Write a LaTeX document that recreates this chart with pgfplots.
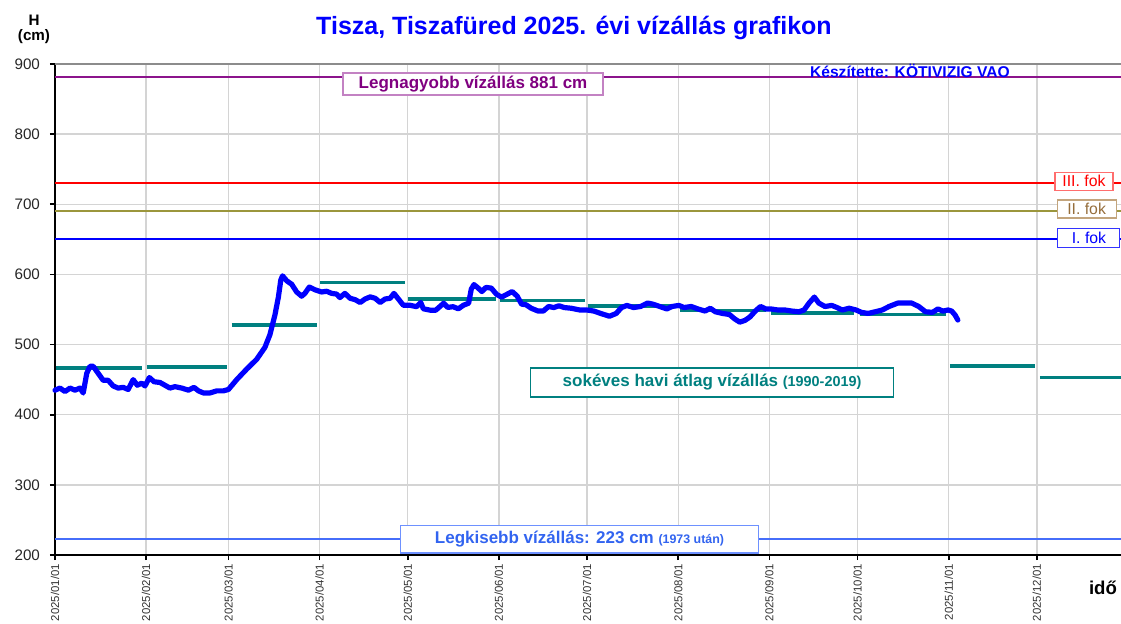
\documentclass[border=0pt]{standalone}
\usepackage{fontspec}
\setmainfont{Liberation Sans}
\usepackage{pgfplots}
\pgfplotsset{compat=1.18}

\definecolor{maxline}{RGB}{140,20,140}
\definecolor{maxtext}{RGB}{128,0,128}
\definecolor{maxbox}{RGB}{195,130,195}
\definecolor{olivel}{RGB}{155,150,60}
\definecolor{olivetext}{RGB}{150,110,60}
\definecolor{olivebox}{RGB}{195,165,125}
\definecolor{minline}{RGB}{70,110,250}
\definecolor{mintext}{RGB}{50,100,240}
\definecolor{minbox}{RGB}{110,145,255}
\definecolor{tealline}{RGB}{0,128,128}
\definecolor{redbox}{RGB}{255,110,110}

\begin{document}
\begin{tikzpicture}
\useasboundingbox (-27.5pt,-34pt) rectangle (533pt,277.5pt);
\begin{axis}[
    scale only axis,
    width=533pt,
    height=245.5pt,
    xmin=0, xmax=362.6,
    ymin=200, ymax=900,
    axis lines=left,
    axis line style={-},
    x axis line style={black, line width=0.8pt},
    y axis line style={black, line width=1.1pt},
    xtick={0,31,59,90,120,151,181,212,243,273,304,334},
    xticklabels={2025/01/01,2025/02/01,2025/03/01,2025/04/01,2025/05/01,2025/06/01,
                 2025/07/01,2025/08/01,2025/09/01,2025/10/01,2025/11/01,2025/12/01},
    ytick={200,300,...,900},
    grid=major,
    major grid style={line width=0.7pt, draw=black!17},
    tick align=outside,
    major tick length=2.5pt,
    tick style={black, line width=0.8pt},
    xticklabel style={rotate=90, anchor=east, xshift=1.5pt, font=\fontsize{5.7}{6}\selectfont, text=black!80},
    yticklabel style={xshift=-1.5pt, font=\fontsize{7.6}{8}\selectfont, text=black!85},
    /pgf/number format/assume math mode=true,
    clip=false,
]
% top border line
\addplot[black!45, line width=0.8pt] coordinates {(0,900) (362.6,900)};

% reference levels
\addplot[maxline, line width=1pt] coordinates {(0,881) (362.6,881)};
\addplot[red, line width=1pt] coordinates {(0,730) (362.6,730)};
\addplot[olivel, line width=1pt] coordinates {(0,690) (362.6,690)};
\addplot[blue, line width=1pt] coordinates {(0,650) (362.6,650)};
\addplot[minline, line width=1pt] coordinates {(0,223) (362.6,223)};

\node[draw=maxbox, fill=white, line width=0.6pt, text=maxtext, inner sep=0pt,
      minimum width=130pt, minimum height=11pt,
      font=\bfseries\fontsize{8.5}{9}\selectfont] at (axis cs:142.2,871.5) {Legnagyobb vízállás 881 cm};
\node[text=blue, font=\bfseries\fontsize{7.8}{8}\selectfont, inner sep=0pt] at (axis cs:290.8,890.5) {Készítette: KÖTIVIZIG VAO};

\node[draw=redbox, fill=white, line width=0.6pt, text=red, inner sep=0pt,
      minimum width=29pt, minimum height=9pt,
      font=\fontsize{7.9}{8}\selectfont] at (axis cs:350,733) {III. fok};
\node[draw=olivebox, fill=white, line width=0.6pt, text=olivetext, inner sep=0pt,
      minimum width=29.5pt, minimum height=9pt,
      font=\fontsize{7.9}{8}\selectfont] at (axis cs:350.9,693.3) {II. fok};
\node[draw=blue!80, fill=white, line width=0.5pt, text=blue, inner sep=0pt,
      minimum width=31pt, minimum height=9.5pt,
      font=\fontsize{7.9}{8}\selectfont] at (axis cs:351.7,652.6) {I. fok};

\node[draw=minbox, fill=white, line width=0.7pt, text=mintext, inner sep=0pt,
      minimum width=178.8pt, minimum height=13.8pt,
      font=\bfseries\fontsize{8.5}{9}\selectfont] at (axis cs:178.4,222.8)
      {Legkisebb vízállás: 223 cm {\fontsize{6.2}{7}\selectfont(1973 után)}};

\node[draw=tealline, fill=white, line width=0.7pt, text=tealline, inner sep=0pt,
      minimum width=181.3pt, minimum height=14.5pt,
      font=\bfseries\fontsize{8.5}{9}\selectfont] at (axis cs:223.5,445.9)
      {sokéves havi átlag vízállás {\fontsize{7.2}{8}\selectfont(1990-2019)}};

% long-term monthly averages (1990-2019)
\addplot[tealline, line width=1.6pt] coordinates {(0.2,466.5) (29.5,466.5)};
\addplot[tealline, line width=1.6pt] coordinates {(31.2,468) (58.6,468)};
\addplot[tealline, line width=1.6pt] coordinates {(60.1,528) (89,528)};
\addplot[tealline, line width=1.6pt] coordinates {(90.2,588) (119,588)};
\addplot[tealline, line width=1.6pt] coordinates {(120.2,565) (150,565)};
\addplot[tealline, line width=1.6pt] coordinates {(151.3,562.5) (180.3,562.5)};
\addplot[tealline, line width=1.6pt] coordinates {(181.2,555) (211.6,555)};
\addplot[tealline, line width=1.6pt] coordinates {(212.6,549) (241.8,549)};
\addplot[tealline, line width=1.6pt] coordinates {(243.5,545) (271.9,545)};
\addplot[tealline, line width=1.6pt] coordinates {(273.7,542.5) (303.2,542.5)};
\addplot[tealline, line width=1.6pt] coordinates {(304.4,469.5) (333.3,469.5)};
\addplot[tealline, line width=1.6pt] coordinates {(335,452.5) (362.6,452.5)};

% daily water level 2025
\addplot[blue, line width=2.6pt, line join=round, line cap=round] coordinates {
(0,435) (1.7,438) (3.4,433) (5.1,438) (6.8,435) (8.5,438) (9.6,431) (10.8,459)
(11.9,469) (13,469) (14.7,459) (16.4,449) (18.1,449) (19.8,441) (21.5,438)
(23.2,439) (24.9,436) (26.6,450) (28,442) (29.5,445) (30.6,441) (32.1,453)
(33.7,447) (35.7,446) (37.4,442) (39.1,438) (40.8,440) (43.1,438) (45.4,435)
(47.3,439) (48.8,434) (50.5,431) (52.7,431) (55,434) (57.3,434) (59,436)
(61.8,450) (65.2,465) (68.6,479) (71.4,496) (73.1,514) (74.8,542) (76,568)
(76.8,592) (77.4,598) (78.8,591) (80.5,586) (82.2,575) (83.9,569) (85,573)
(86.5,582) (88.5,578) (90.7,575) (92.4,576) (94.1,573) (95.8,572) (96.9,567)
(98.6,573) (100.4,566) (102.1,564) (103.8,560) (105.5,565) (107.2,568)
(108.9,566) (110.6,560) (112.3,565) (114,566) (115.3,573) (116.8,565)
(118.5,556) (120.8,556) (123,554) (124.4,560) (125.3,551) (127.7,549)
(129.5,549) (130.6,553) (132.2,559) (133.6,553) (135.4,554) (137.2,551)
(138.9,556) (140.7,559) (141.6,579) (142.5,585.5) (143.7,581.5) (145.2,575.6)
(146.6,581.5) (148.4,580.5) (150.2,571.6) (151.9,567.7) (153.7,571.6)
(155.5,575.6) (157.2,569.1) (158.7,557.7) (160.2,556.8) (162,551.8)
(164.3,547.8) (166.1,547.8) (167.9,554.3) (169.7,552.8) (171.4,555.3)
(173.2,552.8) (175.6,551.8) (178.5,549.3) (180.9,549.3) (183.3,547.8)
(185.6,544.4) (188.6,540.4) (190.9,544.4) (192.7,552.8) (194.5,555.8)
(196.8,552.8) (199.2,554.3) (201.6,559.2) (203.3,557.7) (205.7,554.3)
(208.1,550.8) (209.9,554.3) (212.2,555.8) (214,552.8) (216.4,554.3)
(218.7,550.8) (221.1,547.8) (222.9,551.8) (224.6,546.8) (227,544.4)
(229.4,542.9) (231.1,536.9) (232.9,532) (234.7,534.5) (236.4,539.4)
(238.2,547.8) (240,554.3) (241.8,550.8) (243.5,550.8) (245.9,549.3)
(248.3,549.3) (250.6,547.8) (253,546.8) (254.8,549.3) (256.5,559.2)
(258.3,567.7) (259.8,559.2) (261.9,554.3) (264.2,555.8) (266,552.8)
(267.8,549.3) (270.1,551.8) (272.5,549.3) (274.3,545.9) (276.6,544.4)
(279,546.8) (281.4,549.3) (283.7,554.3) (286.7,559.2) (289,559.2)
(291.4,559.2) (293.8,554.3) (296.1,546.8) (298.5,545.9) (300.3,550.8)
(302,547.8) (303.8,549.3) (305,547.8) (306.2,541.9) (307.1,535)
};
\end{axis}

% title and axis captions
\node[text=blue, font=\bfseries\fontsize{12.5}{15}\selectfont] at (259.5pt,263.5pt)
  {Tisza, Tiszafüred 2025. évi vízállás grafikon};
\node[font=\bfseries\fontsize{7.6}{8}\selectfont] at (-10.5pt,267.5pt) {H};
\node[font=\bfseries\fontsize{7.6}{8}\selectfont] at (-10.5pt,259pt) {(cm)};
\node[font=\bfseries\fontsize{9.3}{10}\selectfont] at (524pt,-16.5pt) {idő};
\end{tikzpicture}
\end{document}
